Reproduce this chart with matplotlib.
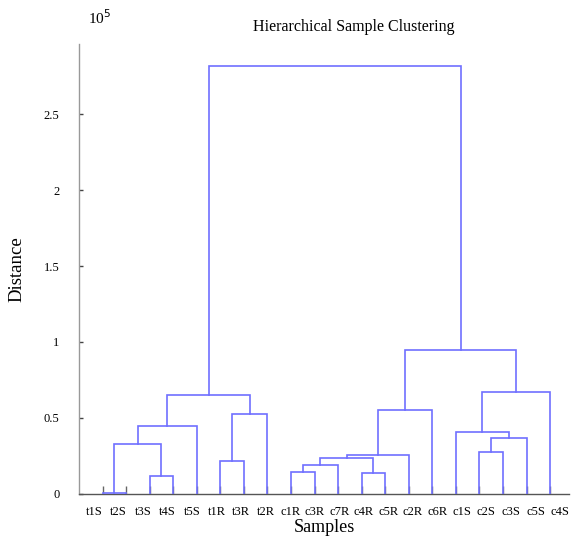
"""Hierarchical sample clustering dendrogram."""

import numpy as np
import matplotlib
matplotlib.use('Agg')
import matplotlib.pyplot as plt

# Leaf labels, left to right
samples = ['t1S', 't2S', 't3S', 't4S', 't5S', 't1R', 't3R', 't2R',
           'c1R', 'c3R', 'c7R', 'c4R', 'c5R', 'c2R', 'c6R',
           'c1S', 'c2S', 'c3S', 'c5S', 'c4S']

# Merges: node ids 0..19 are leaves, new clusters get ids 20, 21, ...
merge_left = [0, 2, 20, 22, 5, 24, 23, 8, 27, 11, 28, 30, 31, 16, 33, 15, 35, 32, 26]
merge_right = [1, 3, 21, 4, 6, 7, 25, 9, 10, 12, 29, 13, 14, 17, 18, 34, 19, 36, 37]
# heights in units of 10^5
merge_height = [0.003, 0.115, 0.327, 0.447, 0.216, 0.524, 0.652,
                0.144, 0.190, 0.133, 0.232, 0.254, 0.551,
                0.276, 0.368, 0.408, 0.667, 0.949, 2.818]

y_ticks = [0, 0.5, 1, 1.5, 2, 2.5]
y_tick_labels = ['0', '0.5', '1', '1.5', '2', '2.5']

plt.rcParams['font.family'] = ['Liberation Serif', 'DejaVu Serif']

fig = plt.figure(figsize=(5.71, 5.39), dpi=100)
ax = fig.add_axes([0.1384, 0.0844, 0.858, 0.834])
ax.set_axisbelow(True)  # leaf ticks stay hidden under the branch lines

line_color = '#7070ff'

# node positions: leaves at 0..n-1, clusters at midpoint of children
n = len(samples)
node_x = {i: float(i) for i in range(n)}
node_y = {i: 0.0 for i in range(n)}
for k, (a, b, h) in enumerate(zip(merge_left, merge_right, merge_height)):
    node = n + k
    xa, xb = node_x[a], node_x[b]
    ax.plot([xa, xa, xb, xb], [node_y[a], h, h, node_y[b]],
            color=line_color, linewidth=1.2, solid_joinstyle='miter',
            zorder=3)
    node_x[node] = (xa + xb) / 2
    node_y[node] = h

ax.set_xlim(-1.0, 19.8)
ax.set_ylim(0, 2.965)

# ticks at leaves (drawn inward), labels a bit spread out like the original
ax.set_xticks(np.arange(n))
ax.set_xticklabels([])
ax.tick_params(axis='x', which='major', direction='in', length=6,
               width=1.0, color='#666666')
ax.set_xticks(np.linspace(-0.37, 19.42, n), minor=True)
ax.set_xticklabels(samples, minor=True, fontsize=9)
ax.tick_params(axis='x', which='minor', length=0, pad=9)

ax.set_yticks(y_ticks)
ax.set_yticklabels(y_tick_labels, fontsize=9)
ax.tick_params(axis='y', direction='in', length=3, width=1.0,
               color='#444444', pad=14)

for side in ['top', 'right']:
    ax.spines[side].set_visible(False)
ax.spines['left'].set_color('#999999')
ax.spines['bottom'].set_color('#555555')
ax.spines['left'].set_linewidth(1.0)
ax.spines['bottom'].set_linewidth(1.0)

ax.set_xlabel('Samples', fontsize=13, labelpad=1)
ax.set_ylabel('Distance', fontsize=13.5, labelpad=13)

fig.text(354 / 571, 1 - 27 / 539, 'Hierarchical Sample Clustering',
         ha='center', va='center', fontsize=11.5)
fig.text(88 / 571, 1 - 18 / 539, r'10$^{5}$', ha='left', va='center',
         fontsize=11)

fig.savefig('out.png', dpi=100)
